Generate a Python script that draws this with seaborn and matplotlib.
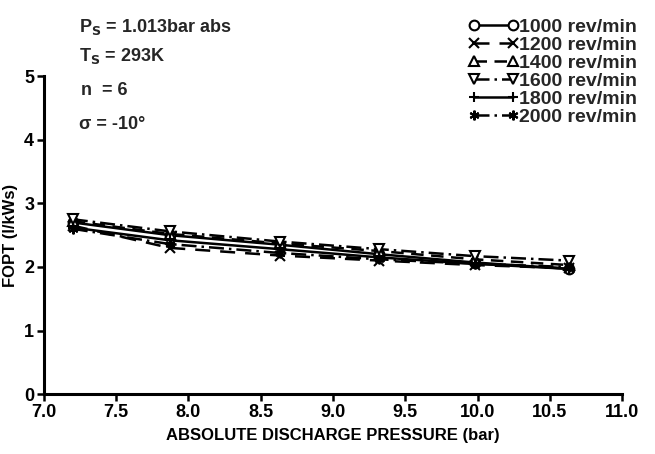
import matplotlib
matplotlib.use("Agg")
import matplotlib.pyplot as plt
import seaborn as sns
import pandas as pd

pressure = [7.2, 7.87, 8.63, 9.32, 9.98, 10.63]
series_labels = ["1000 rev/min", "1200 rev/min", "1400 rev/min",
                 "1600 rev/min", "1800 rev/min", "2000 rev/min"]
fopt_1000 = [2.70, 2.50, 2.35, 2.20, 2.07, 1.97]
fopt_1200 = [2.65, 2.30, 2.18, 2.10, 2.03, 1.98]
fopt_1400 = [2.72, 2.52, 2.37, 2.25, 2.12, 2.03]
fopt_1600 = [2.75, 2.56, 2.40, 2.28, 2.17, 2.10]
fopt_1800 = [2.62, 2.42, 2.28, 2.15, 2.05, 1.97]
fopt_2000 = [2.60, 2.36, 2.22, 2.12, 2.05, 2.00]
x_ticks = [7.0, 7.5, 8.0, 8.5, 9.0, 9.5, 10.0, 10.5, 11.0]
y_ticks = [0, 1, 2, 3, 4, 5]

sns.set_theme(style="ticks")
plt.rcParams['font.family'] = ['Liberation Sans', 'DejaVu Sans']
plt.rcParams['font.weight'] = 'bold'
plt.rcParams['axes.labelweight'] = 'bold'
plt.rcParams['mathtext.default'] = 'bf'

values = [fopt_1000, fopt_1200, fopt_1400, fopt_1600, fopt_1800, fopt_2000]
markers = ['o', 'x', '^', 'v', '+', (6, 2, 0)]
mfc = ['white', 'black', 'white', 'white', 'black', 'black']
styles = ['-', (0, (6, 4)), (0, (5, 3)), (0, (6, 2, 1, 2)), '-', (0, (6, 2, 1, 2))]

fig = plt.figure(figsize=(6.55, 4.54), dpi=100)
ax = fig.add_axes([0.067, 0.132, 0.883, 0.70])

for lab, vals, m, fc, ls in zip(series_labels, values, markers, mfc, styles):
    df = pd.DataFrame({"p": pressure, "f": vals})
    sns.lineplot(data=df, x="p", y="f", ax=ax, color="black", marker=m,
                 markersize=7, markerfacecolor=fc, markeredgecolor="black",
                 markeredgewidth=1.5, linestyle=ls, linewidth=1.8, label=lab)

ax.set_xlim(7.0, 11.0)
ax.set_ylim(0, 5)
ax.set_xticks(x_ticks)
ax.set_xticklabels([f"{t:.1f}" for t in x_ticks])
ax.set_yticks(y_ticks)
ax.tick_params(axis='both', direction='out', length=5, width=1.8, labelsize=13, colors='black', pad=2)
for s in ['top', 'right']:
    ax.spines[s].set_visible(False)
for s in ['left', 'bottom']:
    ax.spines[s].set_linewidth(2.2)
    ax.spines[s].set_color('black')
ax.set_xlabel("ABSOLUTE DISCHARGE PRESSURE (bar)", fontsize=12, labelpad=5, color='black')
ax.set_ylabel("FOPT (l/kWs)", fontsize=12, labelpad=4, color='black')

leg = ax.legend(loc='upper right', bbox_to_anchor=(0.99, 0.985), bbox_transform=fig.transFigure,
                frameon=False, fontsize=14, handlelength=2.6, handletextpad=0.0,
                labelspacing=0.02, numpoints=2, borderpad=0.1)

fig.text(0.12, 0.93, r"P$_\mathrm{\mathbf{S}}$ = 1.013bar abs", fontsize=13)
fig.text(0.12, 0.865, r"T$_\mathrm{\mathbf{S}}$ = 293K", fontsize=13)
fig.text(0.124, 0.79, "n  = 6", fontsize=13)
fig.text(0.12, 0.715, "σ = -10°", fontsize=13)

fig.savefig("out.png", dpi=100, facecolor="white")
